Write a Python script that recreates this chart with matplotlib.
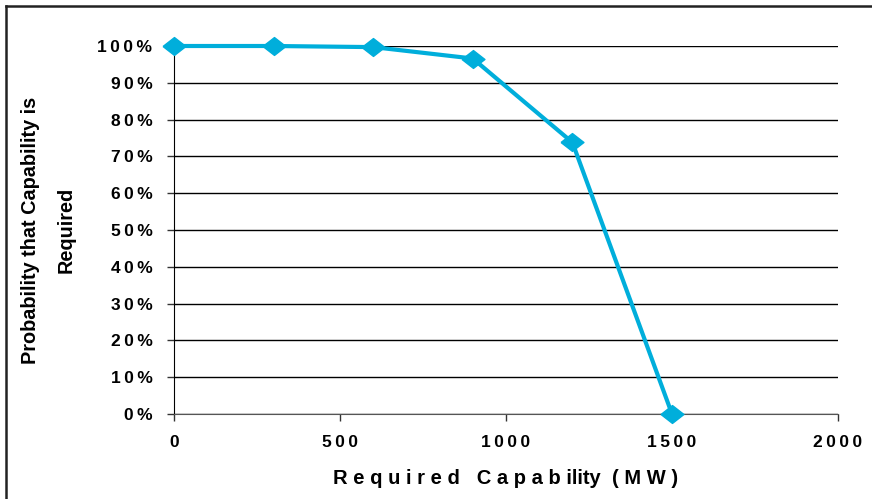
import matplotlib.pyplot as plt
from matplotlib.lines import Line2D
from matplotlib.ticker import FuncFormatter

capability = [0, 300, 600, 900, 1200, 1500]
probability = [1.00, 1.00, 0.997, 0.966, 0.738, 0.0]
x_ticks = [0, 500, 1000, 1500, 2000]
y_ticks = [i / 10 for i in range(11)]

plt.rcParams['font.family'] = ['Liberation Sans', 'DejaVu Sans']
plt.rcParams['font.weight'] = 'bold'

SP = "\u2009"  # thin space to mimic the wide letter spacing

fig = plt.figure(figsize=(8.72, 4.99), dpi=100)
ax = fig.add_axes([174 / 872, 1 - 414 / 499, 664 / 872, 368 / 499])

diamond = [(-1, 0), (0, 0.78), (1, 0), (0, -0.78), (-1, 0)]
ax.plot(capability, probability, color="#00AEDB", lw=3, marker=diamond,
        ms=16.5, mec="#00AEDB", mfc="#00AEDB", clip_on=False, zorder=5)

ax.set_xlim(0, 2000)
ax.set_ylim(0, 1)
ax.set_xticks(x_ticks)
ax.set_yticks(y_ticks)
ax.set_xticklabels([SP.join(str(t)) for t in x_ticks])
ax.yaxis.set_major_formatter(FuncFormatter(lambda v, p: SP.join(f"{v*100:.0f}%")))
ax.tick_params(axis="both", direction="out", length=5, width=1, labelsize=12.5,
               color="#333333")
ax.tick_params(axis="x", pad=10)
ax.tick_params(axis="y", pad=10.5)
for lab in ax.get_xticklabels() + ax.get_yticklabels():
    lab.set_fontweight("bold")

ax.grid(axis="y", color="black", lw=1)
ax.set_axisbelow(True)
for s in ["top", "right"]:
    ax.spines[s].set_visible(False)
ax.spines["left"].set_color("black")
ax.spines["bottom"].set_color("#555555")

ax.set_xlabel("R e q u i r e d   C a p a b ility  ( M W )", fontsize=14.5,
              fontweight="bold", labelpad=14)
ax.set_ylabel("Probability that Capability is\nRequired", fontsize=14.3,
              fontweight="bold", linespacing=2.15)
ax.yaxis.set_label_coords(-98 / 664, 0.5)

fig.add_artist(Line2D([6 / 872, 1.01], [1 - 6 / 499, 1 - 6 / 499],
                      transform=fig.transFigure, color="#222222", lw=1.8))
fig.add_artist(Line2D([6 / 872, 6 / 872], [1 - 6 / 499, -0.01],
                      transform=fig.transFigure, color="#222222", lw=1.8))

fig.savefig("out.png", dpi=100)
